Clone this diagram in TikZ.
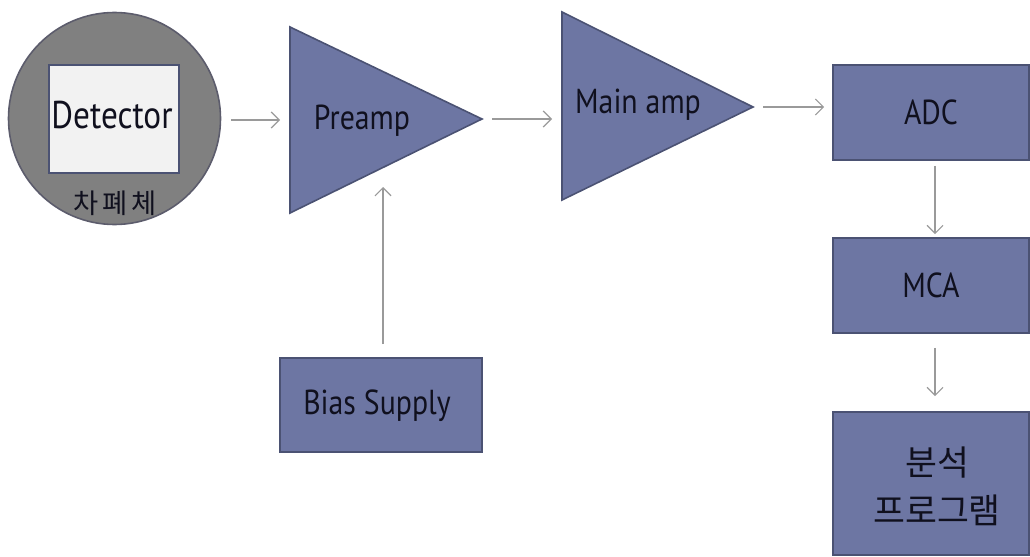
\documentclass[tikz,border=0pt]{standalone}
\usepackage{fontspec}
\setmainfont[FakeStretch=0.86]{PT Sans}
\newfontfamily\krfont{Noto Sans CJK KR}
\usetikzlibrary{arrows.meta}

\definecolor{boxfill}{HTML}{6D76A3}
\definecolor{boxline}{HTML}{4B5273}
\definecolor{shieldfill}{HTML}{808080}
\definecolor{shieldline}{HTML}{5C5C6C}
\definecolor{detfill}{HTML}{F2F2F2}
\definecolor{flow}{HTML}{9A9A9A}
\definecolor{ink}{HTML}{10101E}

\tikzset{
  block/.style={draw=boxline, fill=boxfill, line width=1.2pt},
  label/.style={text=ink, font=\fontsize{26}{30}\selectfont, inner sep=0pt},
  krlabel/.style={text=ink, font=\krfont\fontsize{26}{36}\selectfont, inner sep=0pt, align=center},
  flowarrow/.style={draw=flow, line width=0.9pt,
    -{Straight Barb[length=6pt, width=12pt, line width=0.9pt]}},
}

\begin{document}
\begin{tikzpicture}[x=0.75pt, y=-0.75pt]
\useasboundingbox (0,0) rectangle (1030,556);

% shield with the detector inside
\node[circle, draw=shieldline, fill=shieldfill, line width=1.2pt,
      minimum size=159pt, inner sep=0pt] (shield) at (114.5,118.5) {};
\node[draw=boxline, fill=detfill, line width=1.2pt, minimum width=97.5pt,
      minimum height=81pt, inner sep=0pt] (det) at (114,119) {};
\node[label, font=\fontsize{29}{32}\selectfont] (dettext) at (112,115) {Detector};
\node[text=ink, font=\krfont\fontsize{20.5}{22}\selectfont, inner sep=0pt]
      (shieldtext) at (115,203) {차\hspace{0.15em}폐\hspace{0.15em}체};

% preamplifier
\coordinate (preA) at (290,27);
\coordinate (preB) at (290,213);
\coordinate (preC) at (482,119);
\draw[block, line join=miter] (preA) -- (preC) -- (preB) -- cycle;
\coordinate (prein) at (290,120);
\coordinate (prebot) at (383,172);
\node[label] (pretext) at (362,121) {Preamp};

% main amplifier
\coordinate (mainA) at (562,12);
\coordinate (mainB) at (562,200);
\coordinate (mainC) at (753,107);
\draw[block, line join=miter] (mainA) -- (mainC) -- (mainB) -- cycle;
\coordinate (mainin) at (562,119);
\node[label] (maintext) at (638,105) {Main amp};

% digital chain
\node[block, minimum width=147pt, minimum height=71.25pt, inner sep=0pt]
      (adc) at (931,112.5) {};
\node[label] at (adc) {ADC};
\node[block, minimum width=147pt, minimum height=71.25pt, inner sep=0pt]
      (mca) at (931,285.5) {};
\node[label] at (mca) {MCA};
\node[block, minimum width=147pt, minimum height=107.25pt, inner sep=0pt]
      (prog) at (931,483.5) {};
\node[krlabel] (progtext) at (937,486) {분석\\프로그램};
\coordinate (col) at (935,0);

% bias supply
\node[block, minimum width=151.5pt, minimum height=70.5pt, inner sep=0pt]
      (bias) at (381,405) {};
\node[label] (biastext) at (377,406) {Bias Supply};

% signal flow
\draw[flowarrow, shorten <=7.5pt, shorten >=7.5pt] (shield.east |- prein) -- (prein);
\draw[flowarrow, shorten <=7.5pt, shorten >=7.5pt] (preC) -- (mainin |- preC);
\draw[flowarrow, shorten <=7.5pt, shorten >=6pt] (mainC) -- (adc.west |- mainC);
\draw[flowarrow, shorten <=3.75pt, shorten >=2.25pt] (adc.south -| col) -- (mca.north -| col);
\draw[flowarrow, shorten <=10.5pt, shorten >=11.25pt] (mca.south -| col) -- (prog.north -| col);
\draw[flowarrow, shorten <=9.75pt, shorten >=11.25pt] (bias.north -| prebot) -- (prebot);
\end{tikzpicture}
\end{document}
